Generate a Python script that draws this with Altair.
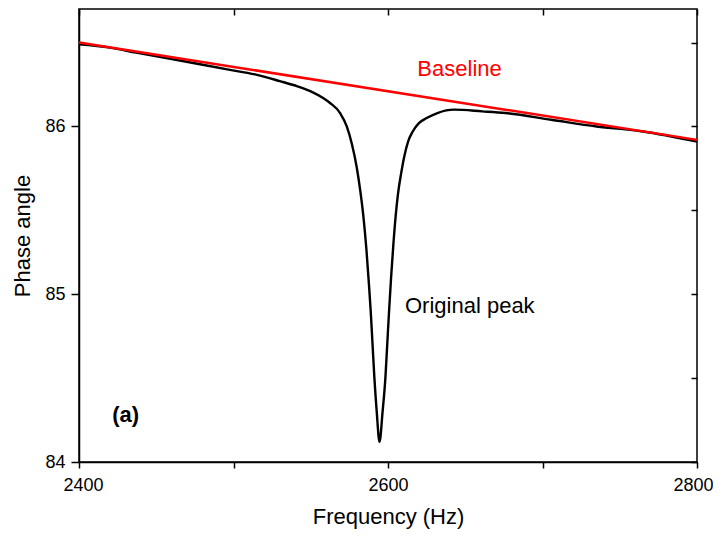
import altair as alt
import pandas as pd

freq = [2400, 2420, 2437, 2467, 2496, 2514, 2530, 2541, 2551, 2558, 2562.5, 2569,
        2573.3, 2576.5, 2579.7, 2582, 2584, 2586, 2587.5, 2588.8, 2590, 2591.2, 2592.7, 2594.5,
        2596.5, 2598.3, 2599.5, 2600.7, 2602, 2603.5, 2605, 2606.5, 2608.5, 2610.5, 2613,
        2616, 2620, 2625, 2632, 2642.7, 2661, 2676, 2705.6, 2735, 2765, 2800]
phase = [86.49, 86.47, 86.44, 86.39, 86.34, 86.31, 86.27, 86.24, 86.205, 86.17, 86.14, 86.08,
         86.00, 85.90, 85.76, 85.62, 85.47, 85.27, 85.08, 84.90, 84.70, 84.50, 84.30, 84.12,
         84.30, 84.50, 84.70, 84.90, 85.10, 85.30, 85.47, 85.60, 85.72, 85.82, 85.91,
         85.97, 86.02, 86.05, 86.08, 86.10, 86.09, 86.08, 86.04, 86.00, 85.97, 85.91]

# Baseline (straight line)
base_freq = [2400, 2800]
base_phase = [86.50, 85.92]

# Axis ticks
x_ticks = [2400, 2500, 2600, 2700, 2800]
y_ticks = [84, 84.5, 85, 85.5, 86, 86.5]

# Annotations
ann_text = ["Baseline", "Original peak"]
ann_freq = [2619, 2611]
ann_phase = [86.34, 84.93]
ann_color = ["#ff0000", "#000000"]
tag_text = ["(a)"]
tag_freq = [2421.5]
tag_phase = [84.28]

FONT = "Liberation Sans"

curve_df = pd.DataFrame({"freq": freq, "phase": phase})
base_df = pd.DataFrame({"freq": base_freq, "phase": base_phase})
ann_df = pd.DataFrame({"text": ann_text, "freq": ann_freq, "phase": ann_phase, "color": ann_color})
tag_df = pd.DataFrame({"text": tag_text, "freq": tag_freq, "phase": tag_phase})

xs = alt.Scale(domain=[2400, 2800], nice=False, zero=False)
ys = alt.Scale(domain=[84, 86.7], nice=False, zero=False)

curve = alt.Chart(curve_df).mark_line(color="black", strokeWidth=2.4, interpolate="monotone").encode(
    x=alt.X("freq:Q", scale=xs, axis=alt.Axis(
        values=x_ticks, format="d",
        labelExpr="datum.value % 200 == 0 ? datum.label : ''",
        labelFlush=True, labelFlushOffset=16,
        title="Frequency (Hz)", tickSize=6, labelPadding=8, titlePadding=12,
        orient="bottom")),
    y=alt.Y("phase:Q", scale=ys, axis=alt.Axis(
        values=y_ticks, format="d",
        labelExpr="datum.value % 1 == 0 ? datum.label : ''",
        labelFlush=False,
        title="Phase angle", tickSize=8, labelPadding=6, titlePadding=10,
        orient="left")),
)

baseline = alt.Chart(base_df).mark_line(color="#ff0000", strokeWidth=2.5).encode(
    x=alt.X("freq:Q", scale=xs, axis=alt.Axis(
        values=x_ticks, orient="top", labels=False, title=None, domain=False,
        tickSize=6, offset=-6)),
    y=alt.Y("phase:Q", scale=ys, axis=alt.Axis(
        values=y_ticks, orient="right", labels=False, title=None, domain=False,
        tickSize=6, offset=-6)),
)

ann = alt.Chart(ann_df).mark_text(align="left", baseline="middle", font=FONT, fontSize=22).encode(
    x=alt.X("freq:Q", scale=xs, axis=None),
    y=alt.Y("phase:Q", scale=ys, axis=None),
    text="text:N",
    color=alt.Color("color:N", scale=None),
)

tag = alt.Chart(tag_df).mark_text(align="left", baseline="middle", font=FONT, fontSize=22,
                                  fontWeight="bold", color="black").encode(
    x=alt.X("freq:Q", scale=xs, axis=None),
    y=alt.Y("phase:Q", scale=ys, axis=None),
    text="text:N",
)

chart = alt.layer(curve, baseline, ann, tag).resolve_axis(
    x="independent", y="independent"
).properties(
    width=618, height=453,
    autosize=alt.AutoSizeParams(type="none"),
    padding={"left": 71, "top": 1, "right": 16, "bottom": 68},
).configure_view(
    stroke="black", strokeWidth=1.5
).configure_axis(
    grid=False, labelFont=FONT, titleFont=FONT, labelFontSize=18, titleFontSize=22,
    labelColor="black", titleColor="black", tickColor="black", domainColor="black",
    tickWidth=1.5, domainWidth=1.5, titleFontWeight="normal",
)

chart.save("out.html", embed_options={"renderer": "svg", "actions": False})
